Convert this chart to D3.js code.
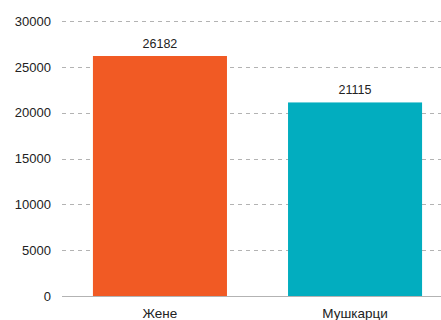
<!DOCTYPE html>
<html>
<head>
<meta charset="utf-8">
<script src="https://cdn.jsdelivr.net/npm/d3@7"></script>
<style>
  html, body { margin: 0; padding: 0; background: #fff; }
  svg { display: block; font-family: "Liberation Sans", Arial, sans-serif; }
</style>
</head>
<body>
<svg id="chart" width="441" height="320"></svg>
<script>
const categories = ["Жене", "Мушкарци"];
const values = [26182, 21115];
const colors = ["#F15A24", "#02ADBF"];
const yTicks = [0, 5000, 10000, 15000, 20000, 25000, 30000];

const svg = d3.select("#chart");
const margin = { top: 21, left: 62, bottom: 24 };
const height = 320;
const plotBottom = height - margin.bottom;

const x = d3.scaleBand()
  .domain(categories)
  .range([62.5, 452.5])
  .paddingInner(0.313)
  .paddingOuter(0.156);

const y = d3.scaleLinear()
  .domain([0, 30000])
  .range([plotBottom, margin.top]);

// dashed horizontal gridlines
svg.append("g")
  .selectAll("line")
  .data(yTicks.filter(d => d > 0))
  .join("line")
  .attr("x1", margin.left)
  .attr("x2", 441)
  .attr("y1", d => Math.round(y(d)) + 0.5)
  .attr("y2", d => Math.round(y(d)) + 0.5)
  .attr("stroke", "#b3b3b3")
  .attr("stroke-dasharray", "4,4");

// y tick labels
const yAxis = svg.append("g")
  .attr("transform", `translate(${margin.left},0)`)
  .call(d3.axisLeft(y).tickValues(yTicks).tickSize(0).tickPadding(11).tickFormat(d3.format("d")));
yAxis.select(".domain").remove();
yAxis.selectAll("text")
  .attr("font-family", "Liberation Sans, Arial, sans-serif")
  .attr("font-size", 13)
  .attr("fill", "#222");

// bars
svg.append("g")
  .selectAll("rect")
  .data(categories)
  .join("rect")
  .attr("x", d => x(d))
  .attr("width", x.bandwidth())
  .attr("y", (d, i) => y(values[i]))
  .attr("height", (d, i) => plotBottom - y(values[i]))
  .attr("fill", (d, i) => colors[i]);

// baseline
svg.append("line")
  .attr("x1", margin.left)
  .attr("x2", 441)
  .attr("y1", plotBottom + 0.5)
  .attr("y2", plotBottom + 0.5)
  .attr("stroke", "#b3b3b3");

// value labels
svg.append("g")
  .selectAll("text")
  .data(categories)
  .join("text")
  .attr("x", d => x(d) + x.bandwidth() / 2)
  .attr("y", (d, i) => y(values[i]) - 8)
  .attr("text-anchor", "middle")
  .attr("font-size", 12.5)
  .attr("fill", "#222")
  .text((d, i) => values[i]);

// category labels
const xAxis = svg.append("g")
  .attr("transform", `translate(0,${plotBottom})`)
  .call(d3.axisBottom(x).tickSize(0).tickPadding(12.5));
xAxis.select(".domain").remove();
xAxis.selectAll("text")
  .attr("font-family", "Liberation Sans, Arial, sans-serif")
  .attr("font-size", 13.5)
  .attr("fill", "#222");
</script>
</body>
</html>
